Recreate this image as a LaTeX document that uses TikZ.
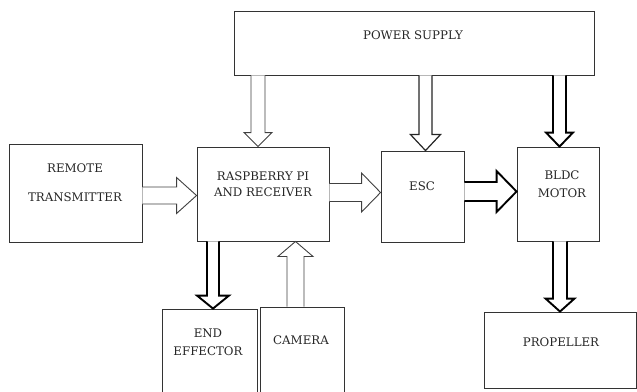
\documentclass[tikz,border=0pt]{standalone}
\usepackage{fontspec}
\setmainfont{DejaVu Serif}
\usetikzlibrary{calc}
% hollow block arrow: [style]{start}{tip}{shaft half width}{head half width}{head length}
\newcommand{\blockarrow}[6][]{%
  \coordinate (bs) at (#2);
  \coordinate (be) at (#3);
  \coordinate (bh) at ($(be)!#6!(bs)$);
  \draw[#1] ($(bs)!#4!90:(be)$) -- ($(bh)!#4!90:(be)$) -- ($(bh)!#5!90:(be)$) -- (be)
    -- ($(bh)!#5!-90:(be)$) -- ($(bh)!#4!-90:(be)$) -- ($(bs)!#4!-90:(be)$);
}

\begin{document}
\begin{tikzpicture}[x=1pt,y=-1pt,
  box/.style={draw=black!80,line width=0.9pt,inner sep=0pt},
  lab/.style={font=\fontsize{11.8}{16}\selectfont,text=black!85,align=center,inner sep=0pt},
  thinarr/.style={draw=black!75,line width=0.9pt,fill=white},
  midarr/.style={draw=black!85,line width=1.2pt,fill=white},
  thickarr/.style={draw=black,line width=1.9pt,fill=white}]
\useasboundingbox (0,0) rectangle (637,391);
% blocks
\node[box,minimum width=360,minimum height=64] (power) at (414,43) {};
\node[box,minimum width=133,minimum height=98] (remote) at (75.5,193) {};
\node[box,minimum width=132,minimum height=94] (rpi) at (263,194) {};
\node[box,minimum width=83,minimum height=91] (esc) at (422.5,196.5) {};
\node[box,minimum width=82,minimum height=94] (bldc) at (558,194) {};
\node[box,minimum width=95,minimum height=90] (endeff) at (209.5,354) {};
\node[box,minimum width=84,minimum height=92] (camera) at (302,353) {};
\node[box,minimum width=152,minimum height=76] (prop) at (560,350) {};
% labels
\node[lab] (power-txt) at (413,35) {POWER SUPPLY};
\node[lab] (remote-txt) at (75,182.5) {REMOTE\\[13pt]TRANSMITTER};
\node[lab] (rpi-txt) at (263,184) {RASPBERRY PI\\AND RECEIVER};
\node[lab] (esc-txt) at (422,186) {ESC};
\node[lab] (bldc-txt) at (562,184) {BLDC\\[2pt]MOTOR};
\node[lab] (endeff-txt) at (208,342) {END\\[2pt]EFFECTOR};
\node[lab] (camera-txt) at (301,340) {CAMERA};
\node[lab] (prop-txt) at (561,342) {PROPELLER};
% connectors
\blockarrow[thinarr]{$(rpi.north |- power.south)+(-5,0)$}{$(rpi.north)+(-5,0)$}{7pt}{14pt}{14pt}
\blockarrow[midarr]{$(esc.north |- power.south)+(3,0)$}{$(esc.north)+(3,0)$}{6.5pt}{15pt}{16pt}
\blockarrow[thickarr]{$(bldc.north |- power.south)+(1.5,0)$}{$(bldc.north)+(1.5,0)$}{6.5pt}{13.5pt}{14pt}
\blockarrow[thinarr]{$(remote.east)+(0,2.5)$}{$(rpi.west |- remote.east)+(0,2.5)$}{8.5pt}{18pt}{20pt}
\blockarrow[thinarr]{$(rpi.east)+(0,-1.5)$}{$(esc.west |- rpi.east)+(0,-1.5)$}{9pt}{19.5pt}{19pt}
\blockarrow[thickarr]{$(esc.east |- bldc.west)+(0,-2.5)$}{$(bldc.west)+(0,-2.5)$}{9.5pt}{20.5pt}{20pt}
\blockarrow[thickarr]{$(rpi.south -| endeff.north)+(3.5,0)$}{$(endeff.north)+(3.5,0)$}{6pt}{16pt}{13pt}
\blockarrow[thinarr]{$(camera.north)+(-6.5,0)$}{$(rpi.south -| camera.north)+(-6.5,0)$}{8.5pt}{17.5pt}{15pt}
\blockarrow[thickarr]{$(bldc.south -| prop.north)$}{$(prop.north)$}{7pt}{14.5pt}{13pt}
\end{tikzpicture}
\end{document}
